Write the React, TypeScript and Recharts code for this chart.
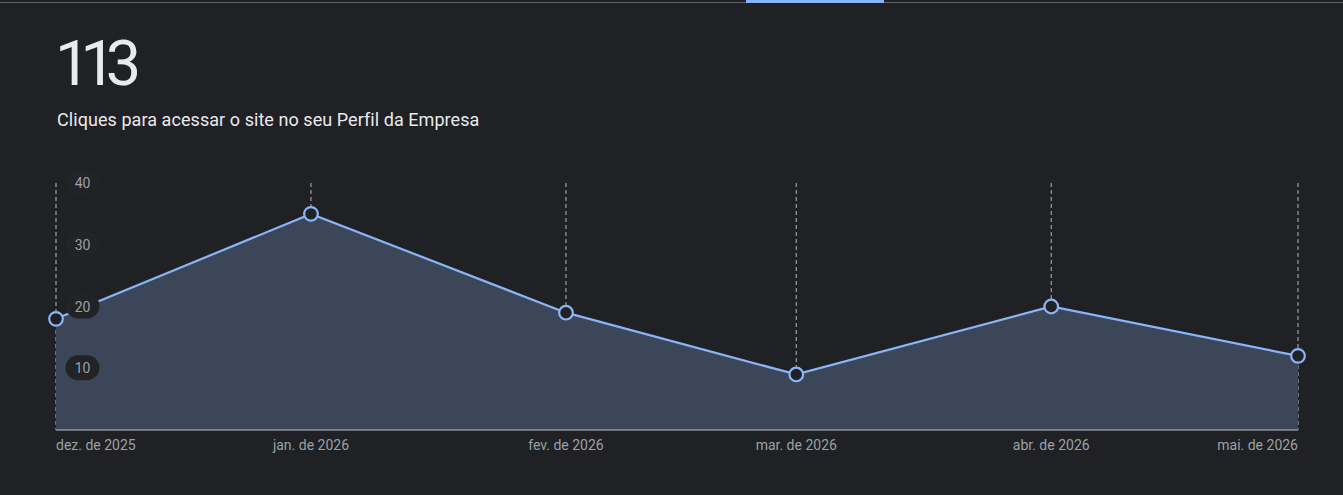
import React from "react";
import {
  AreaChart,
  Area,
  XAxis,
  YAxis,
  CartesianGrid,
} from "recharts";

const dates = ["2025-12-01", "2026-01-01", "2026-02-01", "2026-03-01", "2026-04-01", "2026-05-01"];
const monthLabels = ["dez. de 2025", "jan. de 2026", "fev. de 2026", "mar. de 2026", "abr. de 2026", "mai. de 2026"];
const clicks = [18, 35, 19, 9, 20, 12];
const yTicks = [10, 20, 30, 40];

const total = clicks.reduce((a, b) => a + b, 0);

const data = dates.map((d, i) => ({
  t: Date.parse(d),
  label: monthLabels[i],
  value: clicks[i],
}));
const xTicks = data.map((d) => d.t);

const FONT = "Roboto, 'Noto Sans', sans-serif";

// eslint-disable-next-line @typescript-eslint/no-explicit-any
const XTick = (props: any) => {
  const { x, y, index } = props;
  const anchor = index === 0 ? "start" : index === data.length - 1 ? "end" : "middle";
  return (
    <text
      x={x}
      y={y + 12}
      textAnchor={anchor}
      fill="#9aa0a6"
      fontSize={14}
      fontFamily={FONT}
    >
      {monthLabels[index]}
    </text>
  );
};

// pill behind the value label, only shows where it sits over the area
// eslint-disable-next-line @typescript-eslint/no-explicit-any
const YTick = (props: any) => {
  const { y, payload } = props;
  const cx = 82.5;
  return (
    <g>
      <rect x={cx - 17} y={y - 13} width={34} height={25} rx={12.5} fill="#222326" />
      <text
        x={cx}
        y={y}
        textAnchor="middle"
        dominantBaseline="central"
        fill="#9aa0a6"
        fontSize={14}
        fontFamily={FONT}
      >
        {payload.value}
      </text>
    </g>
  );
};

export default function App() {
  return (
    <div
      style={{
        position: "fixed",
        left: 0,
        top: 0,
        width: 1343,
        height: 495,
        background: "#202124",
        fontFamily: FONT,
        overflow: "hidden",
      }}
    >
      <div style={{ position: "absolute", left: 0, top: 2, width: 1343, height: 1, background: "#5f6368" }} />
      <div style={{ position: "absolute", left: 746, top: 0, width: 138, height: 3, background: "#8ab4f8" }} />
      <div
        style={{
          position: "absolute",
          left: 55,
          top: 26,
          fontSize: 63,
          lineHeight: "76px",
          color: "#e8eaed",
          fontWeight: 400,
          letterSpacing: -10,
        }}
      >
        {total}
      </div>
      <div
        style={{
          position: "absolute",
          left: 57,
          top: 108,
          fontSize: 18,
          lineHeight: "24px",
          color: "#e8eaed",
          fontWeight: 400,
          letterSpacing: 0.06,
        }}
      >
        Cliques para acessar o site no seu Perfil da Empresa
      </div>
      <div style={{ position: "absolute", left: 0, top: 150 }}>
        <AreaChart
          width={1343}
          height={320}
          data={data}
          margin={{ top: 33, right: 45, bottom: 0, left: 0 }}
        >
          <CartesianGrid
            horizontal={false}
            vertical
            stroke="#dadce0"
            strokeOpacity={0.8}
            strokeDasharray="4 3"
          />
          <Area
            type="linear"
            dataKey="value"
            stroke="#8ab4f8"
            strokeWidth={2.2}
            fill="#3b4759"
            fillOpacity={1}
            dot={{ r: 6.8, fill: "#202124", stroke: "#8ab4f8", strokeWidth: 2.2 }}
            activeDot={false}
            isAnimationActive={false}
          />
          <XAxis
            dataKey="t"
            type="number"
            scale="time"
            domain={[xTicks[0], xTicks[xTicks.length - 1]]}
            ticks={xTicks}
            height={40}
            tickLine={false}
            axisLine={{ stroke: "#bdc1c6" }}
            tick={<XTick />}
            interval={0}
          />
          <YAxis
            width={56}
            domain={[0, 40]}
            ticks={yTicks}
            axisLine={false}
            tickLine={false}
            tick={<YTick />}
            interval={0}
          />
        </AreaChart>
      </div>
    </div>
  );
}
